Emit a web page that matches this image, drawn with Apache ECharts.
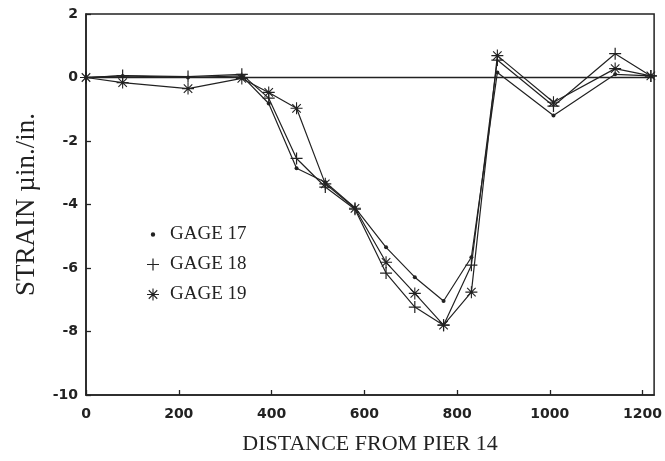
<!DOCTYPE html>
<html>
<head>
<meta charset="utf-8">
<script src="https://cdn.jsdelivr.net/npm/echarts@6/dist/echarts.min.js"></script>
<style>
  html, body { margin: 0; padding: 0; background: #fff; }
  #chart { width: 665px; height: 461px; }
</style>
</head>
<body>
<div id="chart"></div>
<script>
// Distance from pier 14 at each gage reading
const distance = [0, 79, 220, 336, 394, 454, 516, 580, 647, 709, 771, 831, 887, 1008, 1141, 1218];

// Strain readings (micro-in./in.) for each gage
const gage17 = [0, 0.05, 0, 0.05, -0.82, -2.86, -3.3, -4.1, -5.35, -6.29, -7.04, -5.66, 0.16, -1.2, 0.1, 0.05];
const gage18 = [0, 0.06, 0.03, 0.1, -0.65, -2.55, -3.45, -4.15, -6.16, -7.23, -7.8, -5.91, 0.55, -0.9, 0.75, 0.05];
const gage19 = [0, -0.16, -0.35, -0.03, -0.47, -0.97, -3.35, -4.12, -5.82, -6.8, -7.8, -6.76, 0.69, -0.78, 0.28, 0.05];

const seriesNames = ['GAGE 17', 'GAGE 18', 'GAGE 19'];

const ink = '#222';

// Thin bar shapes used to build the plus and asterisk markers
function bar(angleDeg, half, w) {
  const a = angleDeg * Math.PI / 180;
  const c = Math.cos(a), s = Math.sin(a);
  const pts = [
    [ half * c - w * -s,  half * s - w * c],
    [ half * c + w * -s,  half * s + w * c],
    [-half * c + w * -s, -half * s + w * c],
    [-half * c - w * -s, -half * s - w * c]
  ];
  return 'M' + pts.map(p => p[0].toFixed(3) + ',' + p[1].toFixed(3)).join('L') + 'Z';
}
const plusPath = 'path://' + bar(0, 6, 0.6) + bar(90, 6, 0.6);
const starPath = 'path://' + bar(0, 6, 0.55) + bar(45, 6, 0.55) + bar(90, 6, 0.55) + bar(135, 6, 0.55);
// small dot padded to the same box as the other legend marks
const corner = (x, y) => 'M' + x + ',' + y + 'h0.01v0.01h-0.01Z';
const dotPath = 'path://M0,-2.2A2.2,2.2,0,1,1,0,2.2A2.2,2.2,0,1,1,0,-2.2Z' +
  corner(-6, -6) + corner(6, 6);

function pairs(vals) {
  return distance.map((d, i) => [d, vals[i]]);
}

const chart = echarts.init(document.getElementById('chart'), null, { renderer: 'canvas' });

const tickFont = {
  fontFamily: 'DejaVu Sans', fontWeight: 'bold', fontSize: 14, color: ink,
  formatter: v => String(v)
};

chart.setOption({
  animation: false,
  backgroundColor: '#fff',
  grid: {
    left: 86, right: 7, top: 14, bottom: 66,
    show: true, borderColor: ink, borderWidth: 1.5, backgroundColor: 'transparent'
  },
  legend: {
    orient: 'vertical',
    left: 142, top: 220,
    itemWidth: 12, itemHeight: 12, itemGap: 11,
    textStyle: { fontFamily: 'Liberation Serif', fontSize: 19, color: ink, padding: [0, 0, 0, 6] },
    data: [
      { name: seriesNames[0], icon: dotPath },
      { name: seriesNames[1], icon: plusPath },
      { name: seriesNames[2], icon: starPath }
    ]
  },
  xAxis: {
    type: 'value',
    min: 0, max: 1225, interval: 200,
    name: 'DISTANCE FROM PIER 14',
    nameLocation: 'middle', nameGap: 38,
    nameTextStyle: { fontFamily: 'Liberation Serif', fontSize: 22, color: ink },
    axisLine: { show: true, onZero: false, lineStyle: { color: ink, width: 1.5 } },
    axisTick: { show: true, inside: true, length: 5, lineStyle: { color: ink, width: 1.3 } },
    axisLabel: Object.assign({ margin: 12 }, tickFont),
    splitLine: { show: false }
  },
  yAxis: {
    type: 'value',
    min: -10, max: 2, interval: 2,
    name: 'STRAIN µin./in.',
    nameLocation: 'middle', nameGap: 46, nameRotate: 90,
    nameTextStyle: { fontFamily: 'Liberation Serif', fontSize: 27, color: ink },
    axisLine: { show: true, lineStyle: { color: ink, width: 1.5 } },
    axisTick: { show: true, inside: true, length: 5, lineStyle: { color: ink, width: 1.3 } },
    axisLabel: Object.assign({ margin: 8 }, tickFont),
    splitLine: { show: false }
  },
  series: [
    {
      name: seriesNames[0], type: 'line', data: pairs(gage17),
      symbol: 'circle', symbolSize: 4,
      lineStyle: { color: ink, width: 1.2 },
      itemStyle: { color: ink },
      markLine: {
        silent: true, symbol: 'none', label: { show: false },
        lineStyle: { color: ink, width: 1.3, type: 'solid' },
        data: [{ yAxis: 0 }]
      }
    },
    {
      name: seriesNames[1], type: 'line', data: pairs(gage18),
      symbol: plusPath, symbolSize: 12,
      lineStyle: { color: ink, width: 1.2 },
      itemStyle: { color: ink }
    },
    {
      name: seriesNames[2], type: 'line', data: pairs(gage19),
      symbol: starPath, symbolSize: 12,
      lineStyle: { color: ink, width: 1.2 },
      itemStyle: { color: ink }
    }
  ]
});
</script>
</body>
</html>
